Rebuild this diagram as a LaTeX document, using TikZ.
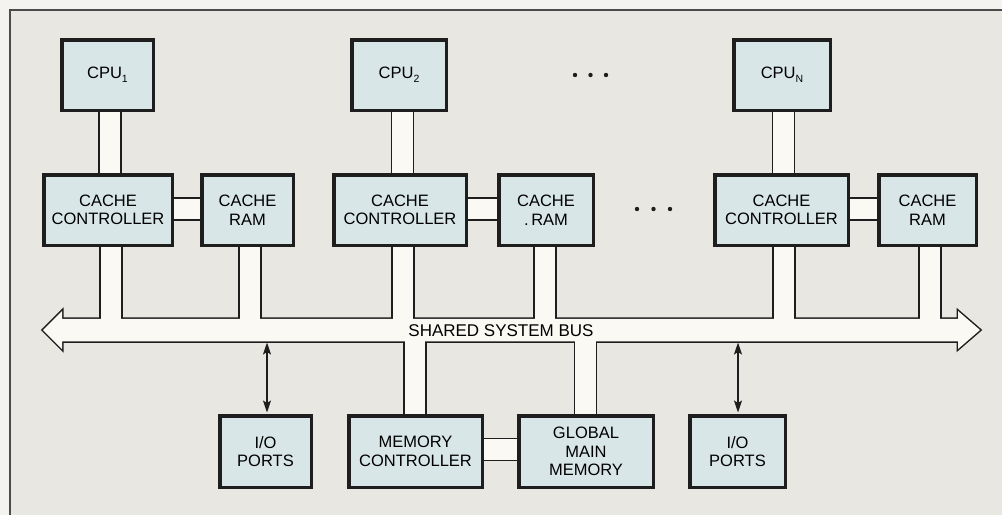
\documentclass[tikz,border=0pt]{standalone}
\usepackage{fontspec}
\setmainfont{Liberation Sans}
\usetikzlibrary{arrows.meta,calc}
\pgfdeclarelayer{bg}
\pgfdeclarelayer{conn}
\pgfsetlayers{bg,conn,main}
\definecolor{paper}{HTML}{F4F3EF}
\definecolor{panel}{HTML}{E9E7E1}
\definecolor{boxfill}{HTML}{D9E6E8}
\definecolor{busfill}{HTML}{FBF9F4}
\definecolor{ink}{HTML}{1E1E1E}
\newcommand{\cpusub}[1]{\raisebox{-4pt}{\fontsize{10.5}{11}\selectfont #1}}
\begin{document}
\begin{tikzpicture}[x=1pt,y=-1pt,
  box/.style={draw=ink,fill=boxfill,line width=3.5pt,minimum height=70.5pt,
    align=center,inner sep=0pt,font=\fontsize{16.5}{18.5}\selectfont},
  lowbox/.style={box,minimum height=71.5pt},
  pipe/.style={draw=ink,line width=1.5pt,double=busfill,double distance=20.5pt},
  pipeout/.style={draw=ink,line width=23.5pt},
  pipein/.style={draw=busfill,line width=20.5pt},
  ioarrow/.style={draw=ink,line width=1.4pt,
    {Stealth[length=12pt,width=8pt,inset=2.5pt]}-{Stealth[length=12pt,width=8pt,inset=2.5pt]}},
  dot/.style={fill=ink},
  buslabel/.style={font=\fontsize{17}{19}\selectfont,inner sep=0pt}
]
\useasboundingbox (0,0) rectangle (1002,515);
\begin{pgfonlayer}{bg}
  \fill[paper] (0,0) rectangle (1002,515);
  \fill[panel] (10,10) rectangle (1002,515);
  \draw[ink!80,line width=1.5pt] (10,515) -- (10,10) -- (1002,10);
\end{pgfonlayer}

% top row
\node[box,minimum width=91.5pt] (cpu1) at (107.5,75) {CPU\cpusub{1}};
\node[box,minimum width=94.5pt] (cpu2) at (399,75) {CPU\cpusub{2}};
\node[box,minimum width=96.5pt] (cpuN) at (782,75) {CPU\cpusub{N}};
% cache row
\node[box,minimum width=128.5pt] (cc1) at (108,210) {CACHE\\CONTROLLER};
\node[box,minimum width=91.5pt] (ram1) at (247.5,210) {CACHE\\RAM};
\node[box,minimum width=132.5pt] (cc2) at (400,210) {CACHE\\CONTROLLER};
\node[box,minimum width=94.5pt] (ram2) at (546,210) {CACHE\\.\,RAM};
\node[box,minimum width=133.5pt] (ccN) at (781.5,210) {CACHE\\CONTROLLER};
\node[box,minimum width=97.5pt] (ramN) at (927.5,210) {CACHE\\RAM};
% bottom row
\node[lowbox,minimum width=91.5pt] (io1) at (265.5,451.5) {I/O\\PORTS};
\node[lowbox,minimum width=133.5pt] (mc) at (415.5,451.5) {MEMORY\\CONTROLLER};
\node[lowbox,minimum width=134.5pt] (gmm) at (586,451.5) {GLOBAL\\MAIN\\MEMORY};
\node[lowbox,minimum width=95.5pt] (io2) at (737.5,451.5) {I/O\\PORTS};

% bus
\coordinate (busL) at (43,330);
\coordinate (busR) at (980,330);
\coordinate (busC) at (501,330);
\coordinate (busB) at (501,342.5);
\node[buslabel] (bus) at (501,330.5) {SHARED SYSTEM BUS};

\def\buspath{(busL) -- (62,311) -- (62,318.75) -- (958,318.75) -- (958,311) -- (busR)
  -- (958,349) -- (958,341.25) -- (62,341.25) -- (62,349) -- cycle}

\begin{pgfonlayer}{conn}
  \draw[ink,line width=3pt,line join=miter] \buspath;
  \foreach \n/\d/\a in {cc1/3/south,ram1/2.5/south,cc2/3/south,ram2/-1/south,
      ccN/2.5/south,ramN/2.5/south,mc/-0.5/north,gmm/-0.5/north}
    \draw[pipeout] ([xshift=\d pt]\n.\a) -- ([xshift=\d pt]\n.\a |- busC);
  \foreach \n/\d/\a in {cc1/3/south,ram1/2.5/south,cc2/3/south,ram2/-1/south,
      ccN/2.5/south,ramN/2.5/south,mc/-0.5/north,gmm/-0.5/north}
    \draw[pipein] ([xshift=\d pt]\n.\a) -- ([xshift=\d pt]\n.\a |- busC);
  \fill[busfill] \buspath;
  % box-to-box connectors
  \draw[pipe] ([xshift=2.5pt]cpu1.south) -- ([xshift=2.5pt]cpu1.south |- cc1.north);
  \draw[pipe] ([xshift=3.5pt]cpu2.south) -- ([xshift=3.5pt]cpu2.south |- cc2.north);
  \draw[pipe] ([xshift=1.5pt]cpuN.south) -- ([xshift=1.5pt]cpuN.south |- ccN.north);
  \draw[pipe] ([yshift=1pt]cc1.east) -- ([yshift=1pt]ram1.west);
  \draw[pipe] ([yshift=1pt]cc2.east) -- ([yshift=1pt]ram2.west);
  \draw[pipe] ([yshift=1pt]ccN.east) -- ([yshift=1pt]ramN.west);
  \draw[pipe] ([yshift=2pt]mc.east) -- ([yshift=2pt]gmm.west);
  % I/O arrows
  \draw[ioarrow] ([xshift=1.5pt]io1.north |- busB) -- ([xshift=1.5pt,yshift=1.5pt]io1.north);
  \draw[ioarrow] ([xshift=0.5pt]io2.north |- busB) -- ([xshift=0.5pt,yshift=1.5pt]io2.north);
\end{pgfonlayer}

% ellipses
\foreach \x in {575,590.5,606} \fill[dot] (\x,75) circle (2.2pt);
\foreach \x in {637,653.5,670} \fill[dot] (\x,209) circle (2.2pt);
\end{tikzpicture}
\end{document}
